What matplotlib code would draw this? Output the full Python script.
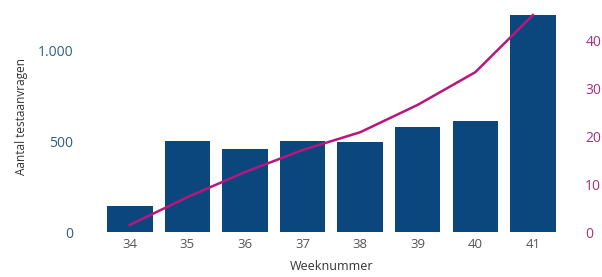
import matplotlib
matplotlib.use("Agg")
import matplotlib.pyplot as plt
from matplotlib.ticker import FuncFormatter

plt.rcParams['font.family'] = ['Open Sans', 'DejaVu Sans']

# data
weeks = ['34', '35', '36', '37', '38', '39', '40', '41']
aanvragen = [143, 500, 456, 500, 495, 577, 610, 1192]
lijn = [1.5, 7.3, 12.5, 17.1, 20.8, 26.5, 33.3, 45.2]

left_ticks = [0, 500, 1000]
right_ticks = [0, 10, 20, 30, 40]

bar_color = '#0b477c'
line_color = '#b8167c'

fig = plt.figure(figsize=(6.02, 2.77), dpi=100)
ax = fig.add_axes([0.168, 0.162, 0.765, 0.834])
x = range(len(weeks))
ax.bar(x, aanvragen, width=0.79, color=bar_color)
ax.set_xlim(-0.5, 7.5)
ax.set_ylim(0, 1270)
ax.set_xticks(list(x))
ax.set_xticklabels(weeks, fontsize=9.5, color='#555555')
ax.set_yticks(left_ticks)
ax.yaxis.set_major_formatter(FuncFormatter(lambda v, p: f"{int(v):,}".replace(',', '.')))
ax.tick_params(axis='y', length=0, pad=20, labelsize=10, labelcolor='#2f5f80')
ax.tick_params(axis='x', length=0, pad=4)
for s in ax.spines.values():
    s.set_visible(False)
ax.set_xlabel('Weeknummer', fontsize=9, color='#333333', labelpad=7)
ax.set_ylabel('Aantal testaanvragen', fontsize=8.5, color='#333333')
ax.yaxis.set_label_coords(-0.158, 0.5)

ax2 = ax.twinx()
ax2.plot(list(x), lijn, color=line_color, linewidth=1.8)
ax2.set_ylim(0, 48.1)
ax2.set_yticks(right_ticks)
ax2.tick_params(axis='y', length=0, pad=17, labelsize=10, labelcolor='#a8307a')
for s in ax2.spines.values():
    s.set_visible(False)

fig.savefig('out.png', dpi=100)
